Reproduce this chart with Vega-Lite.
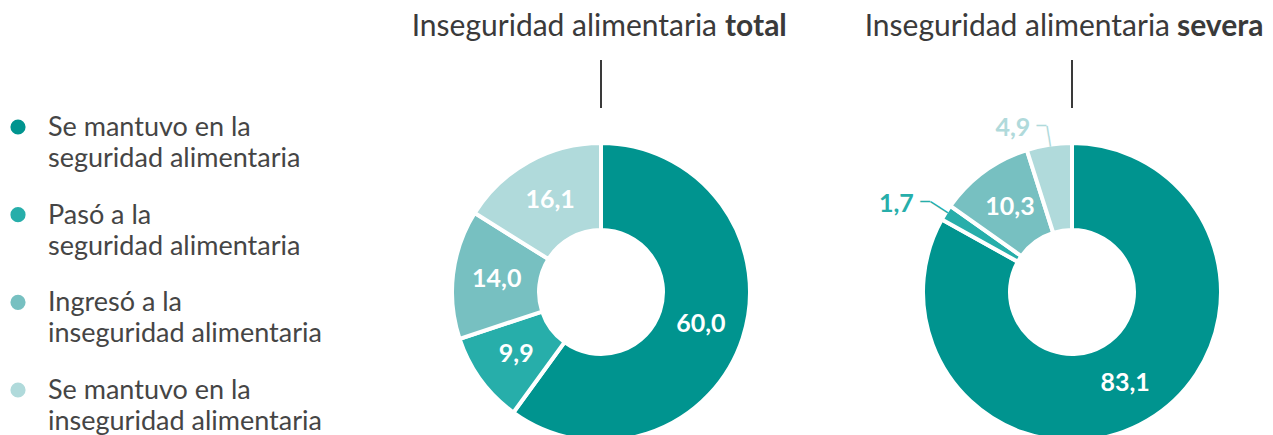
{
  "$schema": "https://vega.github.io/schema/vega-lite/v6.json",
  "padding": 0,
  "background": "white",
  "bounds": "flush",
  "spacing": 177,
  "config": {
    "view": {"stroke": null},
    "font": "Lato",
    "locale": {"number": {"decimal": ",", "thousands": ".", "grouping": [3], "currency": ["$", ""]}}
  },
  "datasets": {
    "datos": [
      {"grafico": "total", "categoria": "Se mantuvo en la\nseguridad alimentaria", "orden": 1, "valor": 60.0},
      {"grafico": "total", "categoria": "Pasó a la\nseguridad alimentaria", "orden": 2, "valor": 9.9},
      {"grafico": "total", "categoria": "Ingresó a la\ninseguridad alimentaria", "orden": 3, "valor": 14.0},
      {"grafico": "total", "categoria": "Se mantuvo en la\ninseguridad alimentaria", "orden": 4, "valor": 16.1},
      {"grafico": "severa", "categoria": "Se mantuvo en la\nseguridad alimentaria", "orden": 1, "valor": 83.1},
      {"grafico": "severa", "categoria": "Pasó a la\nseguridad alimentaria", "orden": 2, "valor": 1.7},
      {"grafico": "severa", "categoria": "Ingresó a la\ninseguridad alimentaria", "orden": 3, "valor": 10.3},
      {"grafico": "severa", "categoria": "Se mantuvo en la\ninseguridad alimentaria", "orden": 4, "valor": 4.9}
    ],
    "titulos": [
      {"grafico": "total", "texto": "Inseguridad alimentaria", "enfasis": "total"},
      {"grafico": "severa", "texto": "Inseguridad alimentaria", "enfasis": "severa"}
    ]
  },
  "hconcat": [
    {
      "width": 277,
      "height": 584,
      "data": {"name": "datos"},
      "transform": [{"filter": "datum.grafico === 'total'"}],
      "encoding": {
        "y": {"field": "categoria", "type": "nominal", "sort": {"field": "orden", "op": "min"}, "scale": {"type": "point", "padding": 0, "range": [127, 390]}, "axis": null},
        "color": {"field": "categoria", "type": "nominal", "scale": {"domain": ["Se mantuvo en la\nseguridad alimentaria", "Pasó a la\nseguridad alimentaria", "Ingresó a la\ninseguridad alimentaria", "Se mantuvo en la\ninseguridad alimentaria"], "range": ["#00948F", "#27AEAA", "#77C0C1", "#B0DADB"]}, "legend": null}
      },
      "layer": [
        {"mark": {"type": "circle", "x": 18, "size": 230, "opacity": 1}},
        {
          "mark": {"type": "text", "x": 48, "align": "left", "baseline": "middle", "dy": 1, "fontSize": 27, "lineHeight": 31, "lineBreak": "\n"},
          "encoding": {"text": {"field": "categoria"}, "color": {"value": "#454545"}}
        }
      ]
    },
    {
      "width": 294,
      "height": 584,
      "layer": [
        {
          "data": {"name": "titulos"},
          "transform": [{"filter": "datum.grafico === 'total'"}],
          "mark": {"type": "text", "align": "right", "baseline": "alphabetic", "x": 263, "y": 36, "fontSize": 30, "fill": "#3a3a3a"},
          "encoding": {"text": {"field": "texto"}}
        },
        {
          "data": {"name": "titulos"},
          "transform": [{"filter": "datum.grafico === 'total'"}],
          "mark": {"type": "text", "align": "left", "baseline": "alphabetic", "x": 271, "y": 36, "fontSize": 30, "fontWeight": "bold", "fill": "#3a3a3a"},
          "encoding": {"text": {"field": "enfasis"}}
        },
        {
          "data": {"name": "titulos"},
          "transform": [{"filter": "datum.grafico === 'total'"}],
          "mark": {"type": "rule", "stroke": "#3a3a3a", "strokeWidth": 2},
          "encoding": {"x": {"value": 147}, "y": {"value": 60}, "y2": {"value": 108}}
        },
        {
          "data": {"name": "datos"},
          "transform": [{"filter": "datum.grafico === 'total'"}],
          "encoding": {
            "theta": {"field": "valor", "type": "quantitative", "stack": true},
            "order": {"field": "orden", "type": "quantitative"},
            "detail": {"field": "categoria"}
          },
          "layer": [
            {
              "mark": {"type": "arc", "innerRadius": 62, "outerRadius": 149, "stroke": "white", "strokeWidth": 4},
              "encoding": {"color": {"field": "categoria", "type": "nominal", "scale": {"domain": ["Se mantuvo en la\nseguridad alimentaria", "Pasó a la\nseguridad alimentaria", "Ingresó a la\ninseguridad alimentaria", "Se mantuvo en la\ninseguridad alimentaria"], "range": ["#00948F", "#27AEAA", "#77C0C1", "#B0DADB"]}, "legend": null}}
            },
            {
              "mark": {"type": "text", "radius": 105, "fontSize": 25, "fontWeight": "bold", "fill": "white", "align": "center", "baseline": "middle"},
              "encoding": {"text": {"field": "valor", "type": "quantitative", "format": ".1f"}}
            }
          ]
        }
      ]
    },
    {
      "width": 294,
      "height": 584,
      "layer": [
        {
          "data": {"name": "titulos"},
          "transform": [{"filter": "datum.grafico === 'severa'"}],
          "mark": {"type": "text", "align": "right", "baseline": "alphabetic", "x": 245, "y": 36, "fontSize": 30, "fill": "#3a3a3a"},
          "encoding": {"text": {"field": "texto"}}
        },
        {
          "data": {"name": "titulos"},
          "transform": [{"filter": "datum.grafico === 'severa'"}],
          "mark": {"type": "text", "align": "left", "baseline": "alphabetic", "x": 252, "y": 36, "fontSize": 30, "fontWeight": "bold", "fill": "#3a3a3a"},
          "encoding": {"text": {"field": "enfasis"}}
        },
        {
          "data": {"name": "titulos"},
          "transform": [{"filter": "datum.grafico === 'severa'"}],
          "mark": {"type": "rule", "stroke": "#3a3a3a", "strokeWidth": 2},
          "encoding": {"x": {"value": 147}, "y": {"value": 60}, "y2": {"value": 108}}
        },
        {
          "data": {"name": "datos"},
          "transform": [{"filter": "datum.grafico === 'severa'"}],
          "encoding": {
            "theta": {"field": "valor", "type": "quantitative", "stack": true},
            "order": {"field": "orden", "type": "quantitative"},
            "detail": {"field": "categoria"},
            "color": {"field": "categoria", "type": "nominal", "scale": {"domain": ["Se mantuvo en la\nseguridad alimentaria", "Pasó a la\nseguridad alimentaria", "Ingresó a la\ninseguridad alimentaria", "Se mantuvo en la\ninseguridad alimentaria"], "range": ["#00948F", "#27AEAA", "#77C0C1", "#B0DADB"]}, "legend": null}
          },
          "layer": [
            {
              "mark": {"type": "arc", "innerRadius": 62, "outerRadius": 149, "stroke": "white", "strokeWidth": 4}
            },
            {
              "mark": {"type": "text", "radius": 105, "fontSize": 25, "fontWeight": "bold", "align": "center", "baseline": "middle"},
              "encoding": {
                "text": {"field": "valor", "type": "quantitative", "format": ".1f"},
                "color": {"value": "white"},
                "opacity": {"condition": {"test": "datum.valor < 5", "value": 0}, "value": 1}
              }
            },
            {
              "mark": {"type": "text", "radius": 168, "dx": -16, "dy": 2, "fontSize": 25, "fontWeight": "bold", "align": "right", "baseline": "middle"},
              "encoding": {
                "text": {"field": "valor", "type": "quantitative", "format": ".1f"},
                "opacity": {"condition": {"test": "datum.valor < 5", "value": 1}, "value": 0}
              }
            },
            {
              "mark": {"type": "text", "text": "──", "radius": 157.5, "font": "DejaVu Sans Mono", "fontSize": 17, "align": "center", "baseline": "middle"},
              "encoding": {
                "angle": {"condition": {"test": "datum.valor < 2", "value": 32}, "value": 81},
                "opacity": {"condition": {"test": "datum.valor < 5", "value": 1}, "value": 0}
              }
            },
            {
              "mark": {"type": "text", "text": "─", "radius": 168, "font": "DejaVu Sans Mono", "fontSize": 16, "align": "right", "baseline": "middle"},
              "encoding": {
                "opacity": {"condition": {"test": "datum.valor < 5", "value": 1}, "value": 0}
              }
            }
          ]
        }
      ]
    }
  ]
}
